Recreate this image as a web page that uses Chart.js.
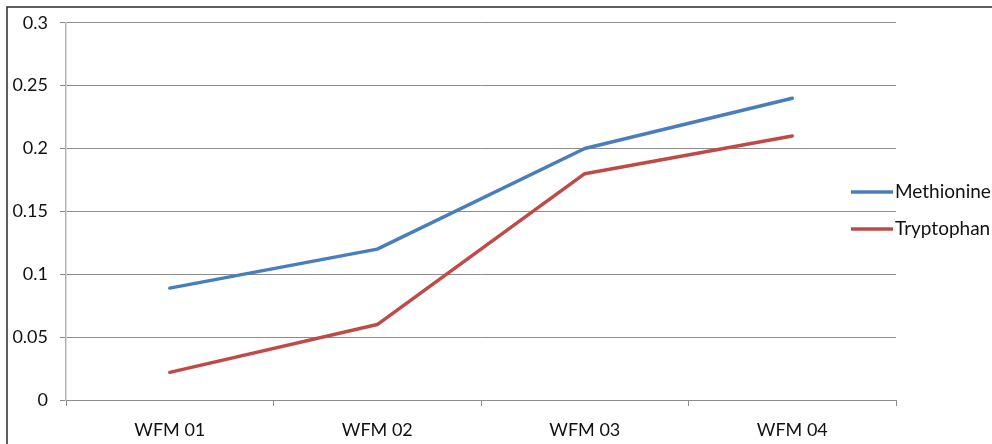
<!DOCTYPE html>
<html>
<head>
<meta charset="utf-8">
<script src="https://cdn.jsdelivr.net/npm/chart.js@4.4.1/dist/chart.umd.min.js"></script>
<style>
  html, body { margin: 0; padding: 0; background: #fff; overflow: hidden; }
  #wrap { position: relative; width: 992px; height: 444px; }
</style>
</head>
<body>
<div id="wrap"><canvas id="c" width="992" height="444"></canvas></div>
<script>
const categories = ['WFM 01', 'WFM 02', 'WFM 03', 'WFM 04'];
const methionine = [0.089, 0.12, 0.2, 0.24];
const tryptophan = [0.022, 0.06, 0.18, 0.21];
const yTickLabels = ['0', '0.05', '0.1', '0.15', '0.2', '0.25', '0.3'];

const FONT = 'Lato, "Open Sans", sans-serif';
const FONT_SIZE = 18;

// outer frame of the chart box
const framePlugin = {
  id: 'frame',
  beforeDraw(chart) {
    const ctx = chart.ctx;
    ctx.save();
    ctx.strokeStyle = '#2b2b2b';
    ctx.lineWidth = 1.5;
    ctx.beginPath();
    ctx.moveTo(7, 444);
    ctx.lineTo(7, 7);
    ctx.lineTo(992, 7);
    ctx.stroke();
    ctx.restore();
  }
};

// legend at the right, built from the datasets
const sideLegend = {
  id: 'sideLegend',
  afterDraw(chart) {
    const ctx = chart.ctx;
    const area = chart.chartArea;
    ctx.save();
    ctx.font = '19px ' + FONT;
    ctx.textBaseline = 'middle';
    ctx.textAlign = 'left';
    chart.data.datasets.forEach((ds, i) => {
      const y = 192 + i * 37;
      const x0 = area.right - 45;
      ctx.strokeStyle = ds.borderColor;
      ctx.lineWidth = 3.5;
      ctx.beginPath();
      ctx.moveTo(x0, y);
      ctx.lineTo(x0 + 42, y);
      ctx.stroke();
      ctx.fillStyle = '#111';
      ctx.fillText(ds.label, x0 + 44, y);
    });
    ctx.restore();
  }
};

new Chart(document.getElementById('c'), {
  type: 'line',
  data: {
    labels: categories,
    datasets: [
      { label: 'Methionine', data: methionine, borderColor: '#4A7EBB', backgroundColor: '#4A7EBB',
        borderWidth: 3.5, pointRadius: 0, tension: 0, borderCapStyle: 'round', borderJoinStyle: 'round' },
      { label: 'Tryptophan', data: tryptophan, borderColor: '#BE4B48', backgroundColor: '#BE4B48',
        borderWidth: 3.5, pointRadius: 0, tension: 0, borderCapStyle: 'round', borderJoinStyle: 'round' }
    ]
  },
  options: {
    responsive: false,
    animation: false,
    devicePixelRatio: 1,
    layout: { padding: { left: 0, top: 20, right: 96, bottom: 0 } },
    plugins: { legend: { display: false }, tooltip: { enabled: false } },
    scales: {
      x: {
        offset: true,
        grid: { offset: true, drawOnChartArea: false, drawTicks: true, tickLength: 6, color: '#8c8c8c', lineWidth: 1 },
        border: { display: true, color: '#8c8c8c', width: 1 },
        ticks: { color: '#111', font: { family: FONT, size: FONT_SIZE }, padding: 13, maxRotation: 0 },
        afterFit(scale) { scale.height = 44; }
      },
      y: {
        min: 0, max: 0.3,
        grid: { color: '#8c8c8c', lineWidth: 1, drawTicks: true, tickLength: 6 },
        border: { display: true, color: '#b4b4b4', width: 1.5 },
        ticks: {
          stepSize: 0.05,
          color: '#111',
          font: { family: FONT, size: FONT_SIZE },
          padding: 12,
          callback: (v, i) => yTickLabels[i]
        },
        afterFit(scale) { scale.width = 66; }
      }
    }
  },
  plugins: [framePlugin, sideLegend]
});
</script>
</body>
</html>
